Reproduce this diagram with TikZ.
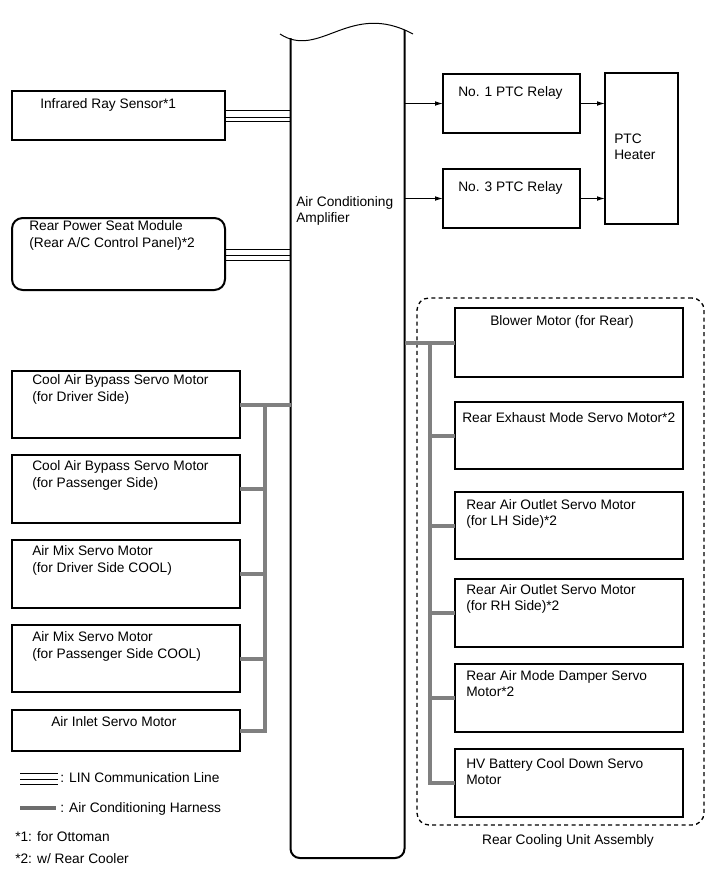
\documentclass[tikz,border=0pt]{standalone}
\usepackage{fontspec}
\setmainfont{Liberation Sans}
\usetikzlibrary{arrows.meta}
\definecolor{harnessgray}{RGB}{128,128,128}

\tikzset{
  box/.style={draw, line width=1.5pt, inner sep=0pt, outer sep=0pt},
  sz/.style 2 args={minimum width=#1*0.75pt, minimum height=#2*0.75pt},
  lbl/.style={inner sep=0pt, anchor=west, align=left},
  harness/.style={draw=harnessgray, line width=3pt},
  lin/.style={draw, line width=0.6pt},
  sig/.style={->, >={Latex[length=6pt,width=3.5pt]}, line width=0.75pt},
}

\begin{document}
\begin{tikzpicture}[x=0.75pt, y=-0.75pt, font=\fontsize{10.3}{12.3}\selectfont]
  \useasboundingbox (0,0) rectangle (713,882);

  % amplifier (torn top)
  \node[inner sep=0, outer sep=0, sz={114}{820}] (amp) at (347.5,448) {};
  \draw[line width=1.5pt, rounded corners=7pt]
    (290.5,38) -- (290.5,858) -- (404.5,858) -- (404.5,30);
  \draw[line width=0.75pt] (280,34) .. controls (320,60) and (350,0) .. (413,34);
  \node[lbl] at (296,211) {Air Conditioning\\Amplifier};

  % LIN side
  \node[box, sz={213}{49}] (ir) at (118.5,115.5) {};
  \node[lbl] at (40,105) {Infrared Ray Sensor*1};

  \node[box, rounded corners=8pt, sz={213}{72}] (rpsm) at (118.5,254) {};
  \node[lbl] at (29,235.5) {Rear Power Seat Module\\(Rear A/C Control Panel)*2};

  % PTC
  \node[box, sz={137}{59}] (pr1) at (511.5,103.5) {};
  \node[lbl] at (458,93) {No. 1 PTC Relay};

  \node[box, sz={137}{59}] (pr3) at (511.5,198.5) {};
  \node[lbl] at (458,188) {No. 3 PTC Relay};

  \node[box, sz={73}{151}] (heater) at (641.5,148.5) {};
  \node[lbl] at (614,147) {PTC\\Heater};

  % front servo motors
  \node[box, sz={228}{67}] (cab1) at (126,404.5) {};
  \node[lbl] at (32,389.5) {Cool Air Bypass Servo Motor\\(for Driver Side)};

  \node[box, sz={228}{68}] (cab2) at (126,489) {};
  \node[lbl] at (32,475.5) {Cool Air Bypass Servo Motor\\(for Passenger Side)};

  \node[box, sz={228}{68}] (mix1) at (126,574) {};
  \node[lbl] at (32,560.5) {Air Mix Servo Motor\\(for Driver Side COOL)};

  \node[box, sz={228}{67}] (mix2) at (126,658.5) {};
  \node[lbl] at (32,646.5) {Air Mix Servo Motor\\(for Passenger Side COOL)};

  \node[box, sz={228}{41}] (inlet) at (126,730.5) {};
  \node[lbl] at (51,722) {Air Inlet Servo Motor};

  % rear cooling unit
  \node[draw, dashed, dash pattern=on 3pt off 2.5pt, line width=1pt,
        rounded corners=9pt, inner sep=0, sz={287}{527}] (rcu) at (560.5,561.5) {};
  \node at (568,841) {Rear Cooling Unit Assembly};

  \node[box, sz={228}{69}] (blower) at (569,342.5) {};
  \node[lbl] at (490,322) {Blower Motor (for Rear)};

  \node[box, sz={228}{67}] (exhaust) at (569,435.5) {};
  \node[lbl] at (462,418) {Rear Exhaust Mode Servo Motor*2};

  \node[box, sz={228}{67}] (lh) at (569,525.5) {};
  \node[lbl] at (466,514) {Rear Air Outlet Servo Motor\\(for LH Side)*2};

  \node[box, sz={228}{68}] (rh) at (569,613) {};
  \node[lbl] at (466,599) {Rear Air Outlet Servo Motor\\(for RH Side)*2};

  \node[box, sz={228}{68}] (damper) at (569,698) {};
  \node[lbl] at (466,683.5) {Rear Air Mode Damper Servo\\Motor*2};

  \node[box, sz={228}{68}] (hv) at (569,783) {};
  \node[lbl] at (466,771.5) {HV Battery Cool Down Servo\\Motor};

  \coordinate (lbus) at (265,0);
  \coordinate (rbus) at (430,0);

  % LIN lines
  \foreach \d in {-5,1.5,6} {
    \draw[lin] ([yshift=-\d*0.75pt]ir.east) -- ([yshift=-\d*0.75pt]ir.east -| amp.west);
    \draw[lin] ([yshift=-\d*0.75pt]rpsm.east) -- ([yshift=-\d*0.75pt]rpsm.east -| amp.west);
  }

  % relays
  \draw[sig] (pr1.west -| amp.east) -- (pr1.west);
  \draw[sig] (pr3.west -| amp.east) -- (pr3.west);
  \draw[sig] (pr1.east) -- (pr1.east -| heater.west);
  \draw[sig] (pr3.east) -- (pr3.east -| heater.west);

  % harness, front
  \draw[harness] (cab1.east) -- (cab1.east -| amp.west);
  \draw[harness] (cab1.east -| lbus) -- (inlet.east -| lbus) -- (inlet.east);
  \foreach \m in {cab2,mix1,mix2}
    \draw[harness] (\m.east) -- (\m.east -| lbus);

  % harness, rear
  \draw[harness] (blower.west -| amp.east) -- (blower.west);
  \draw[harness] (blower.west -| rbus) -- (hv.west -| rbus) -- (hv.west);
  \foreach \m in {exhaust,lh,rh,damper}
    \draw[harness] (\m.west) -- (\m.west -| rbus);

  % legend
  \coordinate (linA) at (20,778);
  \coordinate (linB) at (58,778);
  \foreach \d in {-5,1.5,6}
    \draw[lin] ([yshift=-\d*0.75pt]linA) -- ([yshift=-\d*0.75pt]linB);
  \node[lbl] at (60,778) {: LIN Communication Line};
  \coordinate (harA) at (20,808);
  \coordinate (harB) at (56,808);
  \draw[harness, draw=harnessgray!85!black] (harA) -- (harB);
  \node[lbl] at (60,809) {: Air Conditioning Harness};
  \node[lbl] at (15,837) {*1: for Ottoman};
  \node[lbl] at (15,859) {*2: w/ Rear Cooler};
\end{tikzpicture}
\end{document}
